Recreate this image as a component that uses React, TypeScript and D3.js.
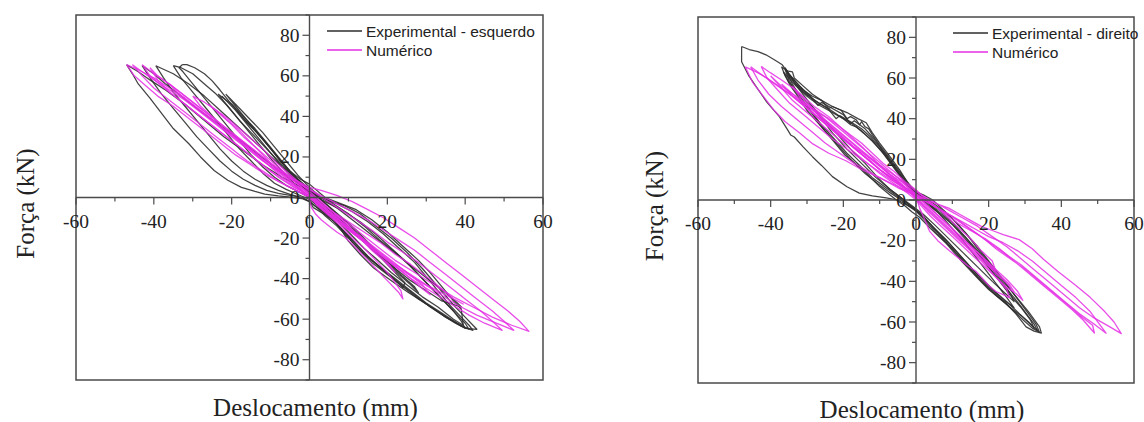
import React from "react";
import * as d3 from "d3";

type P = [number, number];

const xTicks = [-60, -40, -20, 0, 20, 40, 60];
const xMinor = [-50, -30, -10, 10, 30, 50];
const yTicks = [-80, -60, -40, -20, 0, 20, 40, 60, 80];
const yMinor = [-90, -70, -50, -30, -10, 10, 30, 50, 70, 90];

const leftExpLabel = "Experimental - esquerdo";
const rightExpLabel = "Experimental - direito";
const numLabel = "Numérico";
const xTitle = "Deslocamento (mm)";
const yTitle = "Força (kN)";

const leftExp: P[][] = [
  [[-47,65.5],[-45.5,61],[-44,56],[-41,49],[-38,41.5],[-35,34],[-31,26.5],[-28,20],[-24.5,13.3],[-21,8.5],[-17.5,5],[-14,3],[-11.5,1.7],[-8,0.8],[-5.5,0.3],[-2,-0.5],[0,-2],[1,-5],[4,-8.5],[6.5,-12],[8.5,-17],[10,-21.5],[13,-28],[16.5,-34.8],[19.5,-39],[22.5,-43],[25.5,-47],[28.5,-50.6],[32,-55],[35,-59],[37.5,-62],[40,-64.5],[43,-65],[42,-63],[40,-59],[37,-53],[33,-44],[29,-35],[25,-27],[21,-20],[17,-14],[13,-8],[9,-4],[5,-1.5],[2,0.5],[0,3],[-3,6],[-7,10],[-12,16],[-17,23],[-22,30],[-27,38],[-32,46],[-37,53],[-41,58],[-44,62],[-47,65.5]],
  [[-43,65],[-41,59],[-38,51],[-35,44],[-32,37],[-29,30],[-26,24],[-23,18],[-20,13],[-17,9],[-14,6],[-11,3.5],[-8,2],[-5,1],[-2,0],[0,-2],[2,-5],[4,-9],[7,-14],[10,-20],[13,-26],[16,-32],[20,-38],[24,-44],[28,-50],[32,-55],[36,-60],[39,-63.5],[42,-65.5],[41,-63],[39,-59],[36,-53],[33,-46],[30,-39],[27,-32],[23,-25],[19,-18],[15,-12],[11,-7],[7,-3],[3,0],[0,3],[-3,7],[-7,12],[-11,18],[-15,24],[-19,30],[-24,37],[-29,44],[-33,50],[-37,56],[-40,61],[-43,65]],
  [[-39.5,65],[-37.5,59],[-35,52],[-32,45],[-29,38],[-26,31],[-23,24],[-20,18],[-17,13],[-14,9],[-11,6],[-8,3.5],[-5,1.5],[-2,0],[0,-2],[2,-5],[5,-9],[8,-15],[11,-22],[14,-28],[18,-34],[22,-40],[26,-46],[30,-52],[34,-57],[38,-62],[41,-65],[40,-62],[38,-58],[35,-52],[32,-46],[29,-40],[26,-34],[22,-27],[18,-21],[14,-14],[10,-8],[6,-3],[3,0],[0,4],[-3,9],[-7,15],[-11,22],[-15,29],[-19,36],[-23,43],[-27,50],[-31,56],[-35,61],[-39.5,65]],
  [[-35,65],[-33,59],[-30,52],[-27,45],[-24,38],[-21,31],[-18,24],[-15,18],[-12,12],[-9,7],[-6,4],[-3,1.5],[0,-1],[2,-4],[4,-8],[7,-13],[10,-19],[13,-25],[16,-31],[19,-36],[23,-42],[27,-48],[31,-54],[35,-59],[38,-62],[40,-64.5],[39,-61],[37,-56],[34,-50],[31,-44],[28,-38],[25,-32],[21,-25],[17,-18],[13,-12],[9,-7],[5,-3],[2,0],[0,3],[-3,8],[-6,14],[-9,20],[-12,26],[-15,32],[-18,38],[-21,45],[-24,51],[-27,56],[-30,61],[-33,64],[-35,65]],
  [[-32.7,65.5],[-33.5,64],[-32.5,62],[-30,56],[-27,49],[-24,42],[-21,35],[-18,28],[-15,21],[-12,15],[-9,10],[-6,6],[-3,3],[0,0],[2,-3],[5,-8],[8,-13],[11,-19],[14,-25],[17,-30],[21,-37],[25,-43],[29,-49],[33,-54],[37,-60],[39.5,-63],[39,-55],[37,-51],[34,-44],[31,-37],[28,-31],[24,-24],[20,-17],[16,-11],[12,-6],[8,-3],[4,0],[0,6.6],[-2.3,9],[-5,13],[-7.5,18],[-9.5,23],[-11.7,28],[-14.5,34],[-17.7,40.6],[-20.5,47],[-23,53],[-25,57.5],[-27,61],[-29.5,64],[-31.5,65.5],[-32.7,65.5]],
  [[-23.5,51],[-21,45],[-18,38],[-15,31],[-12,24],[-9,17],[-6,11],[-3,5],[0,0],[3,-5],[6,-11],[9,-17],[12,-23],[15,-29],[18,-34],[21,-39],[24,-44.5],[24.5,-42],[22,-37],[19,-31],[16,-25],[13,-19],[10,-13],[7,-8],[4,-3],[1,2],[-2,7],[-5,13],[-8,20],[-11,27],[-14,34],[-17,40],[-20,46],[-23.5,51]],
  [[-21.5,51],[-19,45],[-16,38],[-13,31],[-10,24],[-7,17],[-4,10],[-1,4],[2,-2],[5,-7],[8,-12],[11,-17],[14,-22],[18,-29],[22,-35],[26,-41],[30,-46],[34,-51],[39,-54],[38,-52],[35,-47],[31,-41],[27,-35],[23,-29],[19,-23],[15,-17],[11,-11],[7,-5],[3,0],[0,5],[-3,11],[-6,18],[-9,25],[-12,32],[-15,38],[-18,44],[-21.5,51]],
  [[-22.5,50],[-19,43],[-16,36],[-13,29],[-10,22],[-7,15],[-4,9],[-1,4],[2,-1],[5,-6],[8,-11],[11,-16],[14,-21],[17,-27],[20,-32],[23,-38],[26,-43],[28,-47],[27,-44],[24,-39],[21,-33],[18,-28],[15,-22],[12,-16],[9,-11],[6,-6],[3,-1],[0,4],[-3,9],[-6,15],[-9,22],[-12,29],[-15,35],[-18,41],[-22.5,50]],
];

const leftNum: P[][] = [
  [[-47,65.5],[-45,60],[-42,55],[-39,50],[-35,45],[-31,39],[-27,33],[-23,27],[-19,21],[-15,16],[-11,11],[-7,7],[-3,3],[0,0],[3,-4],[6,-8],[10,-13],[14,-19],[18,-25],[22,-31],[27,-37],[32,-43],[37,-49],[42,-54],[47,-59],[52,-63],[56.4,-66],[54,-61],[51,-56],[47,-50],[43,-44],[39,-38],[35,-32],[31,-26],[27,-20],[23,-15],[19,-10],[15,-6],[11,-2],[7,1],[3,3.5],[0,5],[-4,9],[-8,14],[-12,19],[-16,25],[-20,31],[-24,37],[-28,43],[-32,49],[-36,54],[-40,59],[-44,63],[-47,65.5]],
  [[-45.5,65.5],[-43,60],[-40,54],[-36,48],[-32,42],[-28,36],[-24,30],[-20,24],[-16,18],[-12,13],[-8,8],[-4,4],[0,0],[3,-5],[7,-11],[11,-17],[15,-23],[19,-29],[23,-35],[28,-41],[33,-47],[38,-53],[43,-58],[48,-62],[52.5,-65.5],[50,-61],[47,-56],[43,-50],[39,-44],[35,-38],[31,-32],[27,-26],[23,-21],[19,-16],[15,-11],[11,-7],[7,-3],[3,1],[0,4],[-4,8],[-8,13],[-12,18],[-16,24],[-20,30],[-24,36],[-28,42],[-32,48],[-36,53],[-40,58],[-43,62],[-45.5,65.5]],
  [[-43,65.5],[-41,60],[-38,55],[-34,49],[-30,43],[-26,37],[-22,31],[-18,25],[-14,19],[-10,13],[-6,8],[-2,3],[0,0],[3,-5],[6,-10],[10,-16],[14,-22],[18,-28],[22,-34],[26,-40],[31,-46],[36,-52],[41,-58],[45,-62],[49.5,-65.5],[47,-61],[44,-56],[40,-50],[36,-44],[32,-38],[28,-32],[24,-27],[20,-22],[16,-16],[12,-11],[8,-6],[4,-1],[0,4],[-4,9],[-8,14],[-12,20],[-16,26],[-20,32],[-24,38],[-28,44],[-32,50],[-36,56],[-40,61],[-43,65.5]],
  [[-41,64],[-39,58],[-36,52],[-32,46],[-28,40],[-24,34],[-20,28],[-16,22],[-12,16],[-8,10],[-4,5],[0,1],[3,-4],[6,-9],[10,-15],[14,-21],[18,-27],[22,-33],[26,-38],[30,-43],[34,-47],[39.5,-52.5],[37,-50],[34,-45],[30,-39],[26,-33],[22,-28],[18,-22],[14,-17],[10,-12],[6,-7],[3,-3],[0,2],[-4,8],[-8,14],[-12,20],[-16,26],[-20,32],[-24,38],[-28,44],[-32,50],[-36,56],[-39,60],[-41,64]],
  [[-30,50],[-28,45],[-25,40],[-22,35],[-19,30],[-16,25],[-13,20],[-10,15],[-7,10],[-4,6],[-1,2],[0,-1],[0.5,-5],[1.5,-8],[3,-11],[5,-14],[7,-17],[9,-19.5],[11,-23],[13,-27],[15,-31],[17,-35],[19,-39],[20.5,-42],[22,-45],[23,-47],[24,-50],[23.5,-46],[22,-42],[20,-37],[18,-33],[16,-29],[14,-25],[11,-20],[8,-14],[5,-9],[2,-4],[0,1],[-3,5],[-6,10],[-9,15],[-12,21],[-15,27],[-18,33],[-21,38],[-24,43],[-27,47],[-30,50]],
  [[-36,56],[-33,50],[-29,44],[-25,38],[-21,32],[-17,26],[-13,20],[-9,14],[-5,8],[-1,3],[2,-2],[5,-7],[9,-13],[13,-19],[17,-25],[21,-31],[25,-37],[29,-43],[31,-48],[29,-45],[26,-40],[22,-34],[18,-28],[14,-22],[10,-16],[6,-10],[3,-5],[0,0],[-3,5],[-7,11],[-11,17],[-15,23],[-19,29],[-23,35],[-27,41],[-31,47],[-34,52],[-36,56]],
  [[-26,46],[-23,41],[-20,36],[-17,30],[-14,25],[-11,20],[-8,15],[-5,10],[-2,5],[1,0],[4,-5],[7,-10],[10,-15],[13,-20],[16,-26],[19,-31],[22,-37],[20.5,-33],[18,-29],[15,-23],[12,-18],[9,-12],[6,-7],[3,-2],[0,3],[-3,8],[-6,13],[-9,18],[-12,24],[-15,29],[-18,34],[-21,39],[-26,46]],
];

const rightExp: P[][] = [
  [[-48,75.5],[-48,68],[-46,61],[-44,55.8],[-41,48],[-37.6,41],[-35.5,35],[-34.5,32],[-33.5,31],[-31,26],[-28.5,21.3],[-26,17],[-23,11.5],[-19,6.5],[-15.6,3.4],[-12,2],[-8.2,1],[-5,0],[-2,-3],[0,-5],[2,-8],[5,-14],[8,-20],[11,-26],[14,-32],[17,-38],[20,-43],[23,-48],[26,-53],[29,-57],[32,-62],[34,-65],[33,-61],[31,-56],[28.5,-50],[26,-44],[23,-37],[20,-30],[17,-23],[14,-17],[11,-11],[8,-6],[5,-2],[3,0.5],[0,3.4],[-2.5,9],[-4.5,14.8],[-7,21],[-10,28],[-12,33],[-13.7,38],[-16,40],[-19,43],[-23,46],[-26,49],[-28.5,51],[-31,54],[-33,58],[-35,62],[-36.8,66.5],[-39,69],[-41.3,71.4],[-43.5,73],[-45.9,74],[-48,75.5]],
  [[-37,65.5],[-36,61],[-34.5,56],[-32.5,51],[-30,44],[-27,38],[-23,29.6],[-19.5,22],[-15.6,16.4],[-12.5,11],[-10,6.6],[-7.5,3],[-5.4,0],[-3,-3],[-1,-6],[1,-8.5],[4,-14],[8.3,-21.3],[12,-29],[16.6,-37.8],[20,-44],[24.8,-50.9],[27.5,-56],[30.3,-62.4],[32.5,-64.5],[34.5,-65.5],[34,-62.4],[31,-55],[27.6,-47.6],[24,-40],[21,-32.8],[17,-24],[13.8,-16.4],[10,-9],[7,-4],[4.6,0],[2,2.5],[0,4],[-2,8],[-4.5,14],[-7,20],[-10,27],[-12,32],[-13,35],[-14,36],[-15,38.5],[-15.5,37],[-16.5,39.5],[-18,41],[-19,40],[-20.5,44],[-23,46],[-24,45],[-26,49],[-28.5,52],[-31,56],[-33.5,60],[-34,63],[-35.5,63.5],[-37,65.5]],
  [[-36,64],[-35,59],[-33,53],[-30.5,47],[-28,41],[-25,34],[-21,26],[-17.5,19],[-14,13],[-10.5,8],[-7.5,4],[-4.5,0.5],[-2,-3],[0,-5.5],[2.5,-10],[6,-17],[10,-24],[14,-32],[18,-40],[22,-47],[26,-53],[29.5,-59],[32,-63],[33.5,-64.5],[32.5,-61],[30,-55],[27,-48],[24,-42],[20.5,-34],[17,-26],[13.5,-18],[10,-11],[6.5,-5],[3.5,-1],[0.5,3],[-2,7],[-4,12],[-6.5,18],[-9,24],[-11.5,30],[-14,35],[-17,39],[-18,37.5],[-20,42],[-23,45],[-26,48],[-27,46.5],[-29,51],[-32,56],[-34.5,61],[-36,64]],
  [[-35.5,62.5],[-34,57],[-32,51],[-29,44],[-26,37],[-22.5,30],[-19,23],[-15.5,17],[-12,11],[-9,7],[-6,3],[-3,-1],[-0.5,-4],[2,-8],[5,-14],[9,-21],[13,-29],[17,-37],[21,-44],[25,-50],[28.5,-56],[31,-60],[32.5,-63],[31.5,-59],[29,-53],[26,-47],[23,-40],[19.5,-32],[16,-24],[12.5,-17],[9,-10],[5.5,-4.5],[2.5,-0.5],[0,3],[-2.5,8],[-5,14],[-7.5,20],[-10,26],[-12.5,31],[-15,35],[-18,38.5],[-21,41.5],[-22,40],[-24,44.5],[-27,48],[-30,52],[-33,57],[-35.5,62.5]],
  [[-36.5,63],[-35,58],[-32,52],[-29,46],[-26,40],[-23,33],[-19,25],[-15,18],[-11,11],[-7,5],[-4,1],[-1,-3],[2,-7],[5,-12],[9,-19],[13,-26],[17,-33],[21,-40],[24,-45],[27,-50],[26,-46],[24,-41],[21,-34],[18,-27],[14,-19],[10,-12],[6,-6],[3,-1],[0,3],[-3,9],[-6,16],[-9,23],[-12,29],[-15,34],[-18,38],[-21,41],[-24,44],[-27,47],[-30,51],[-33,56],[-36.5,63]],
  [[-36,65],[-34.5,60],[-32,54],[-29,47],[-26,41],[-22,33],[-18,25],[-14,18],[-10.5,11],[-7,5],[-4,1],[-1.5,-3],[1,-7],[4,-12],[8,-19],[12,-27],[16,-35],[20,-42],[24,-49],[27,-53],[25,-48],[22,-41],[19,-34],[16,-27],[12.5,-19],[9,-12],[6,-6],[3,-2],[0.5,2],[-2,6],[-4.5,12],[-7,18],[-9.5,24],[-12,29],[-14.5,33],[-16.5,36],[-18,37],[-20,40],[-22.5,43],[-25,46],[-28,49],[-31,53],[-33.5,58],[-36,65]],
];

const rightNum: P[][] = [
  [[-47,65.5],[-45,58],[-42,51],[-39,44],[-36,38.5],[-32,33],[-28.4,27.6],[-24,23],[-19.3,19.3],[-15,15],[-10,11],[-6,7.5],[-3,5],[0,2.5],[3,0],[6,-2],[9,-4],[12,-7],[15,-10],[18,-13],[21,-15],[24,-17],[28.4,-19.5],[32,-24],[35,-29],[39,-35],[44,-42],[48,-48],[52,-55],[54.5,-60],[56.5,-65.7],[53,-62],[49,-58],[45,-53],[41,-47],[37,-41],[33,-35],[29,-29],[25,-23],[21,-18],[17,-13],[13,-9],[9,-5],[5,-1],[1,3],[-2,7],[-5,11],[-9,16],[-13,21],[-17,26],[-21,32],[-25,38],[-29,44],[-33,50],[-37,55],[-41,60],[-44,63],[-47,65.5]],
  [[-45.5,65.5],[-43.5,59],[-40.5,52],[-37,46],[-33,40],[-29,34],[-25,28],[-21,23],[-17,18],[-13,14],[-9,10],[-5,6],[-1,3],[2,0],[5,-3],[8,-6],[11,-9],[14,-12],[17,-15],[20,-18],[24,-21],[28,-25],[32,-30],[36,-36],[40,-42],[44,-48],[48,-55],[52.3,-65.5],[49,-61],[45,-56],[41,-50],[37,-44],[33,-38],[29,-32],[25,-27],[21,-22],[17,-17],[13,-12],[9,-7],[5,-3],[1,1],[-2,5],[-6,10],[-10,15],[-14,21],[-18,27],[-22,33],[-26,39],[-30,45],[-34,51],[-38,56],[-42,61],[-45.5,65.5]],
  [[-42.6,65.7],[-41,60],[-38,54],[-35,48],[-31,42],[-27,36],[-23,30],[-19,25],[-15,20],[-11,15],[-7,10],[-3,6],[0,3],[3,0],[6,-4],[9,-8],[12,-12],[15,-15],[19,-19],[23,-24],[27,-30],[31,-36],[35,-42],[39,-48],[43,-54],[46,-59],[49.1,-65.4],[48.6,-61.6],[46,-58],[42,-52],[38,-46],[34,-40],[30,-34],[26,-29],[22,-24],[18,-18],[14,-13],[10,-8],[6,-4],[2,0],[-1,4.5],[-4,9],[-7.3,12.7],[-11,19],[-14.7,26],[-19,33],[-23.9,40.8],[-28,46],[-33,54],[-37,59],[-40,62.5],[-42.6,65.7]],
  [[-40,61],[-37,55],[-34,49],[-30,43],[-26,37],[-22,31],[-18,25],[-14,19],[-10,13],[-6,8],[-2,3],[0,0],[2,-4],[4,-8],[7,-13],[10,-18],[13,-23],[16,-28],[19,-33],[22,-38],[25,-43],[27.5,-46],[29.4,-49.3],[28,-45],[25.5,-40],[22.5,-35],[19.5,-30],[16.5,-25],[13.5,-20],[10,-14],[7,-9],[4,-4],[1,1],[-2,6],[-5,11],[-9,17],[-13,23],[-17,29],[-21,35],[-25,41],[-29,46],[-33,51],[-37,56],[-40,61]],
  [[-34,56],[-31,50],[-28,44],[-25,38],[-22,33],[-18,27],[-14,21],[-10,15],[-6,10],[-3,6],[0,2],[1,-4],[2.5,-10],[3.7,-15.3],[6,-20],[9.2,-25],[12,-29],[14,-32],[16.5,-35],[18.5,-39],[20,-42],[22,-45],[24,-46.5],[25.7,-48],[25,-44],[23,-40],[20.5,-35],[18,-30],[15,-25],[12,-20],[9,-15],[6,-10],[3,-5],[0,1],[-3,6],[-7,12],[-11,18],[-15,24],[-19,30],[-23,36],[-27,42],[-31,48],[-34,56]],
  [[-37,57],[-34,51],[-30,45],[-26,39],[-22,33],[-18,27],[-14,21],[-10,15],[-6,9],[-2,4],[1,-1],[4,-6],[7,-11],[10,-16],[13,-21],[16,-26],[19,-31],[22,-36],[25,-41],[27,-45],[25.5,-41],[23,-37],[20,-32],[17,-27],[14,-22],[11,-17],[8,-12],[5,-7],[2,-2],[-1,3],[-4,8],[-8,14],[-12,20],[-16,26],[-20,32],[-24,38],[-28,44],[-32,49],[-37,57]],
  [[-28,44],[-25,39],[-22,34],[-19,29],[-16,24],[-13,20],[-10,15],[-7,11],[-4,7],[-1,3],[2,-1],[5,-6],[8,-11],[11,-16],[14,-21],[17,-26],[20,-31],[22,-35],[21,-30],[18,-25],[15,-19],[12,-14],[9,-9],[6,-4],[3,0],[0,5],[-3,9],[-6,14],[-9,18],[-12,23],[-15,28],[-18,32],[-21,36],[-24,40],[-28,44]],
];

const BLACK = "#2e2e2e";
const MAGENTA = "#e52ee5";
const AXIS = "#4a4a4a";
const SERIF = "'Liberation Serif', 'Times New Roman', serif";
const SANS = "'Liberation Sans', Arial, sans-serif";

type PanelProps = {
  x0: number; x1: number; y0: number; y1: number;
  exp: P[][]; num: P[][]; expLabel: string;
  legendX: number; legendY: number;
  yTitleX: number; xTitleY: number;
};

function Panel(p: PanelProps) {
  const x = d3.scaleLinear().domain([-60, 60]).range([p.x0, p.x1]);
  const y = d3.scaleLinear().domain([-90, 90]).range([p.y1, p.y0]);
  const line = d3.line<P>().x(d => x(d[0])).y(d => y(d[1]));
  const zx = x(0), zy = y(0);
  const cx = (p.x0 + p.x1) / 2;
  const cy = (p.y0 + p.y1) / 2;
  return (
    <g>
      <rect x={p.x0} y={p.y0} width={p.x1 - p.x0} height={p.y1 - p.y0} fill="none" stroke={AXIS} strokeWidth={1.5} />
      {p.exp.map((l, i) => (
        <path key={"e" + i} d={line(l) || ""} fill="none" stroke={BLACK} strokeWidth={1.25} strokeOpacity={0.9} strokeLinejoin="round" />
      ))}
      {p.num.map((l, i) => (
        <path key={"n" + i} d={line(l) || ""} fill="none" stroke={MAGENTA} strokeWidth={1.3} strokeOpacity={0.85} strokeLinejoin="round" />
      ))}
      <line x1={p.x0} x2={p.x1} y1={zy} y2={zy} stroke={AXIS} strokeWidth={1.4} />
      <line x1={zx} x2={zx} y1={p.y0} y2={p.y1} stroke={AXIS} strokeWidth={1.4} />
      {xTicks.map(t => (
        <g key={"xt" + t}>
          <line x1={x(t)} x2={x(t)} y1={zy} y2={zy + 7} stroke={AXIS} strokeWidth={1.2} />
          <text x={x(t)} y={zy + 30} textAnchor="middle" fontFamily={SERIF} fontSize={19.5} fill="#222">{t}</text>
        </g>
      ))}
      {xMinor.map(t => (
        <line key={"xm" + t} x1={x(t)} x2={x(t)} y1={zy} y2={zy + 4} stroke={AXIS} strokeWidth={1.2} />
      ))}
      {yTicks.map(t => (
        <g key={"yt" + t}>
          <line x1={zx - 7} x2={zx} y1={y(t)} y2={y(t)} stroke={AXIS} strokeWidth={1.2} />
          <text x={zx - 10} y={y(t) + 6.5} textAnchor="end" fontFamily={SERIF} fontSize={19.5} fill="#222">{t}</text>
        </g>
      ))}
      {yMinor.map(t => (
        <line key={"ym" + t} x1={zx - 4} x2={zx} y1={y(t)} y2={y(t)} stroke={AXIS} strokeWidth={1.2} />
      ))}
      <line x1={p.legendX} x2={p.legendX + 35} y1={p.legendY} y2={p.legendY} stroke={BLACK} strokeWidth={1.3} />
      <text x={p.legendX + 39} y={p.legendY + 5.5} fontFamily={SANS} fontSize={15.5} fill="#222">{p.expLabel}</text>
      <line x1={p.legendX} x2={p.legendX + 35} y1={p.legendY + 19} y2={p.legendY + 19} stroke={MAGENTA} strokeWidth={1.3} />
      <text x={p.legendX + 39} y={p.legendY + 24.5} fontFamily={SANS} fontSize={15.5} fill="#222">{numLabel}</text>
      <text x={cx + 6} y={p.xTitleY} textAnchor="middle" fontFamily={SERIF} fontSize={25} fill="#222">{xTitle}</text>
      <text transform={`translate(${p.yTitleX},${cy + 6}) rotate(-90)`} textAnchor="middle" fontFamily={SERIF} fontSize={25} fill="#222">{yTitle}</text>
    </g>
  );
}

export default function App() {
  return (
    <svg width={1144} height={422} style={{ position: "absolute", left: 0, top: 0, background: "#fff" }}>
      <rect x={0} y={0} width={1144} height={422} fill="#fff" />
      <Panel x0={76} x1={543} y0={15} y1={380} exp={leftExp} num={leftNum} expLabel={leftExpLabel}
        legendX={327} legendY={31} yTitleX={34} xTitleY={416} />
      <Panel x0={698} x1={1134} y0={17} y1={383} exp={rightExp} num={rightNum} expLabel={rightExpLabel}
        legendX={953} legendY={33} yTitleX={663} xTitleY={418} />
    </svg>
  );
}
